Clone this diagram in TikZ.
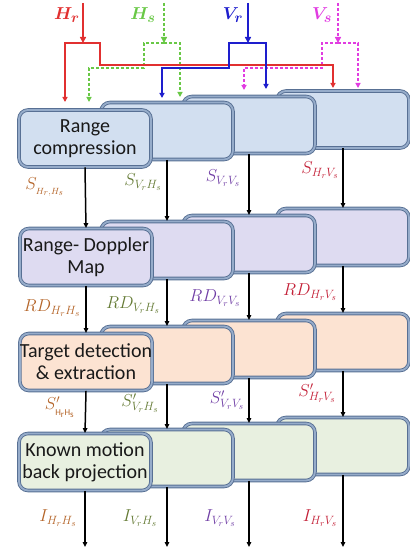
\documentclass[tikz,border=0pt]{standalone}
\usepackage{fontspec}
\setmainfont{Carlito}
\usetikzlibrary{arrows.meta}
\definecolor{bordout}{RGB}{88,112,148}
\definecolor{bordin}{RGB}{150,172,202}
\definecolor{fA}{RGB}{210,223,240}
\definecolor{fB}{RGB}{222,219,241}
\definecolor{fC}{RGB}{252,227,210}
\definecolor{fD}{RGB}{232,240,224}
\definecolor{cred}{RGB}{225,48,48}
\definecolor{cgreen}{RGB}{105,200,70}
\definecolor{cblue}{RGB}{30,30,205}
\definecolor{cmag}{RGB}{225,60,225}
\definecolor{lA}{RGB}{180,100,40}
\definecolor{lB}{RGB}{100,122,52}
\definecolor{lC}{RGB}{112,62,165}
\definecolor{lD}{RGB}{195,32,55}
\tikzset{
  stg/.style={rectangle, draw=bordout, line width=0.9pt, double=bordin, double distance=1.8pt,
    rounded corners=9pt, minimum width=132pt, minimum height=57pt, inner sep=0pt,
    align=center, font=\fontsize{20}{22}\selectfont, text=black!90},
  arr/.style={-{Triangle[length=5pt,width=4.5pt]}, line width=1.5pt, black},
  inp/.style={line width=2.4pt, -{Triangle[length=6pt,width=6pt]}},
  brn/.style={line width=1.4pt, -{Triangle[length=5pt,width=5pt]}},
  dsh/.style={dash pattern=on 3pt off 2pt},
  lbl/.style={inner sep=0pt, font=\fontsize{18}{20}\selectfont},
  tlbl/.style={inner sep=0pt, font=\fontsize{19}{21}\selectfont\boldmath}
}
\begin{document}
\begin{tikzpicture}[x=1pt,y=-1pt]
\useasboundingbox (0,0) rectangle (409,548);
% ---- stage 1
\node[stg, fill=fA] (a4) at (343,119.5) {};
\node[stg, fill=fA] (a3) at (249,125) {};
\node[stg, fill=fA] (a2) at (167,131) {};
\node[stg, fill=fA] (a1) at (85,138.5) {Range\\compression};
% ---- stage 2
\node[stg, fill=fB] (b4) at (343,237) {};
\node[stg, fill=fB] (b3) at (249,244) {};
\node[stg, fill=fB] (b2) at (167,250) {};
\node[stg, fill=fB] (b1) at (86,257) {Range- Doppler\\Map};
% ---- stage 3
\node[stg, fill=fC] (c4) at (343,342) {};
\node[stg, fill=fC] (c3) at (249,349) {};
\node[stg, fill=fC] (c2) at (167,355) {};
\node[stg, fill=fC] (c1) at (86,362) {Target detection\\\& extraction};
% ---- stage 4
\node[stg, fill=fD] (d4) at (343,446) {};
\node[stg, fill=fD] (d3) at (249,452) {};
\node[stg, fill=fD] (d2) at (167,458) {};
\node[stg, fill=fD] (d1) at (85,462) {Known motion\\back projection};
% ---- vertical arrows
\foreach \k in {1,2,3,4}{
  \draw[arr] (a\k.south) -- (b\k.north);
  \draw[arr] (b\k.south) -- (c\k.north);
  \draw[arr] (c\k.south) -- (d\k.north);
}
\coordinate (o1) at (85,547);
\coordinate (o2) at (167,547);
\coordinate (o3) at (249,547);
\coordinate (o4) at (343,547);
\foreach \k in {1,2,3,4}{ \draw[arr] (d\k.south) -- (o\k); }
% ---- top inputs
\coordinate (hr0) at (83,3);   \coordinate (hrj) at (83,43);
\coordinate (hs0) at (164,3);  \coordinate (hsj) at (164,43);
\coordinate (vr0) at (248,3);  \coordinate (vrj) at (248,43);
\coordinate (vs0) at (338,3);  \coordinate (vsj) at (338,43);
\coordinate (hrk) at (100,65); \coordinate (hra) at (65,102);  \coordinate (hrb) at (333,88);
\coordinate (hsk) at (144,68); \coordinate (hsa) at (89,102);  \coordinate (hsb) at (180,97);
\coordinate (vrk) at (229,68); \coordinate (vra) at (162,98);  \coordinate (vrb) at (266,89);
\coordinate (vsk) at (322,68); \coordinate (vsa) at (244,90);  \coordinate (vsb) at (358,88);
% green
\draw[brn, dsh, cgreen] (hsj) -| (hsk) -| (hsa);
\draw[brn, dsh, cgreen] (hsj) -| (hsb);
\draw[inp, dsh, cgreen] (hs0) -- (hsj);
% magenta
\draw[brn, dsh, cmag] (vsj) -| (vsk) -| (vsa);
\draw[brn, dsh, cmag] (vsj) -| (vsb);
\draw[inp, dsh, cmag] (vs0) -- (vsj);
% red
\draw[brn, cred] (hrj) -| (hra);
\draw[brn, cred] (hrj) -| (hrk) -| (hrb);
\draw[inp, cred] (hr0) -- (hrj);
% blue
\draw[brn, cblue] (vrj) -| (vrk) -| (vra);
\draw[brn, cblue] (vrj) -| (vrb);
\draw[inp, cblue] (vr0) -- (vrj);
% top labels
\node[tlbl, text=cred]   (thr) at (67,15)  {$H_r$};
\node[tlbl, text=cgreen] (ths) at (143,15) {$H_s$};
\node[tlbl, text=cblue]  (tvr) at (233,15) {$V_r$};
\node[tlbl, text=cmag]   (tvs) at (322,15) {$V_s$};
% row labels
\node[lbl, text=lA] (l11) at (45,187)  {$S_{{}_{H_r,H_s}}$};
\node[lbl, text=lB] (l12) at (143,182) {$S_{V_rH_s}$};
\node[lbl, text=lC] (l13) at (223,178) {$S_{V_rV_s}$};
\node[lbl, text=lD] (l14) at (320,170) {$S_{H_rV_s}$};
\node[lbl, text=lA] (l21) at (52,308)  {$RD_{H_rH_s}$};
\node[lbl, text=lB] (l22) at (133,305) {$RD_{V_rH_s}$};
\node[lbl, text=lC] (l23) at (215,298) {$RD_{V_rV_s}$};
\node[lbl, text=lD] (l24) at (310,292) {$RD_{H_rV_s}$};
\node[lbl, text=lA] (l31) at (60,407)  {$S'_{{}_{\mathrm{H_r H_s}}}$};
\node[lbl, text=lB] (l32) at (140,403) {$S'_{V_rH_s}$};
\node[lbl, text=lC] (l33) at (227,400) {$S'_{V_rV_s}$};
\node[lbl, text=lD] (l34) at (317,393) {$S'_{H_rV_s}$};
\node[lbl, text=lA] (l41) at (58,518)  {$I_{H_rH_s}$};
\node[lbl, text=lB] (l42) at (140,518) {$I_{V_rH_s}$};
\node[lbl, text=lC] (l43) at (220,518) {$I_{V_rV_s}$};
\node[lbl, text=lD] (l44) at (320,518) {$I_{H_rV_s}$};
\end{tikzpicture}
\end{document}
